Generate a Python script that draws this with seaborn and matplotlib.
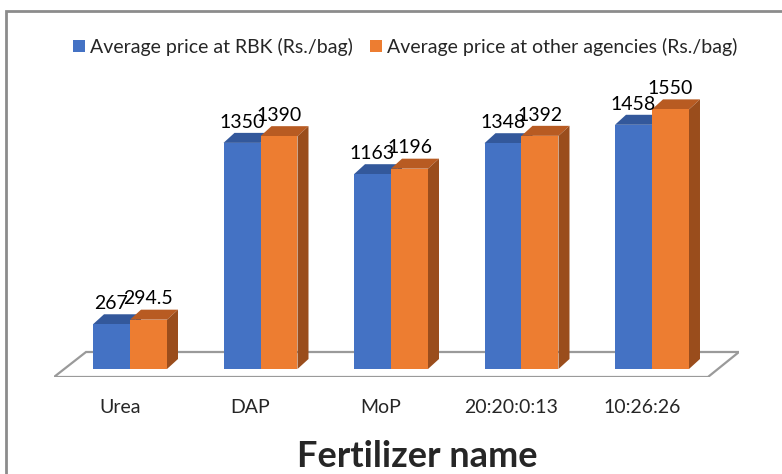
import numpy as np
import matplotlib as mpl
import matplotlib.pyplot as plt
import matplotlib.transforms as mtrans
import seaborn as sns
import pandas as pd
from matplotlib.patches import Polygon, Rectangle

categories = ['Urea', 'DAP', 'MoP', '20:20:0:13', '10:26:26']
rbk_price = [267, 1350, 1163, 1348, 1458]
other_price = [294.5, 1390, 1196, 1392, 1550]
rbk_label = ['267', '1350', '1163', '1348', '1458']
other_label = ['294.5', '1390', '1196', '1392', '1550']
series = ['Average price at RBK (Rs./bag)', 'Average price at other agencies (Rs./bag)']

front_cols = ['#4472C4', '#ED7D31']
top_cols = ['#33589B', '#B85B22']
side_cols = ['#2A4A85', '#9A4D1C']

df = pd.DataFrame({
    'name': categories * 2,
    'price': rbk_price + other_price,
    'series': [series[0]] * 5 + [series[1]] * 5,
})

sns.set_style('white')
plt.rcParams['font.family'] = ['Lato', 'DejaVu Sans']

W, H = 782, 474
fig = plt.figure(figsize=(W / 100, H / 100), dpi=100)
# axes box in pixels (left, top, right, bottom)
L, T, R, B = 54, 60, 739, 377
ax = fig.add_axes([L / W, 1 - B / H, (R - L) / W, (B - T) / H])

sns.barplot(data=df, x='name', y='price', hue='series', palette=front_cols,
            width=0.567, saturation=1, legend=True, ax=ax, zorder=3, linewidth=0)

ax.set_xlim(-0.5824, 4.6667)
ax.set_ylim(-47.8, 1844.8)
for s in ax.spines.values():
    s.set_visible(False)
ax.set_yticks([])
ax.tick_params(axis='x', length=0, pad=16, labelsize=14)
# excel puts the category names a little left of the bars
shift = mtrans.ScaledTranslation(-10 / 100, 0, fig.dpi_scale_trans)
for lab in ax.get_xticklabels():
    lab.set_transform(lab.get_transform() + shift)

ax.set_xlabel('Fertilizer name', fontsize=26, fontweight='bold')
ax.xaxis.label.set_va('baseline')
ax.xaxis.set_label_coords((417 - L) / (R - L), -(467 - B) / (B - T))
ax.set_ylabel('')

fig.canvas.draw()
to_disp = ax.transData.transform
to_data = ax.transData.inverted().transform


def shifted(x, y, dx, dy):
    px, py = to_disp((x, y))
    return to_data((px + dx, py + dy))


# floor
fl = [(-0.5824, -47.8), (4.429, -47.8)]
fl.append(tuple(shifted(4.429, -47.8, 31, 25)))
fl.append(tuple(shifted(-0.5824, -47.8, 32, 25)))
ax.add_patch(Polygon(fl, closed=True, facecolor='white', edgecolor='#9A9A9A',
                     linewidth=1.6, zorder=1))

labels = [rbk_label, other_label]
dx, dy = 11, 10
for i, cont in enumerate(ax.containers):
    for j, bar in enumerate(cont):
        x0 = bar.get_x()
        x1 = x0 + bar.get_width()
        h = bar.get_height()
        bar.set_zorder(3 + 2 * i)
        top = [(x0, h), (x1, h), tuple(shifted(x1, h, dx, dy)), tuple(shifted(x0, h, dx, dy))]
        side = [(x1, 0), (x1, h), tuple(shifted(x1, h, dx, dy)), tuple(shifted(x1, 0, dx, dy))]
        ax.add_patch(Polygon(top, closed=True, facecolor=top_cols[i], edgecolor='none',
                             zorder=2.9 + 2 * i))
        ax.add_patch(Polygon(side, closed=True, facecolor=side_cols[i], edgecolor='none',
                             zorder=2.9 + 2 * i))
        ax.annotate(labels[i][j], ((x0 + x1) / 2, h), xytext=(0, 11),
                    textcoords='offset points', ha='center', va='baseline',
                    fontsize=14, color='black', zorder=10)

handles, texts = ax.get_legend_handles_labels()
ax.legend(handles, texts, loc='center', bbox_to_anchor=(405 / W, 1 - 47 / H),
          bbox_transform=fig.transFigure, ncol=2, frameon=False, fontsize=14,
          handlelength=0.6, handleheight=0.6, handletextpad=0.25, columnspacing=0.9)

# chart border
fig.patches.append(Rectangle((6 / W, -0.1), 1.2, 1.1 - 11 / H, transform=fig.transFigure,
                             fill=False, edgecolor='#8C8C8C', linewidth=2))

plt.savefig('out.png', dpi=100)
